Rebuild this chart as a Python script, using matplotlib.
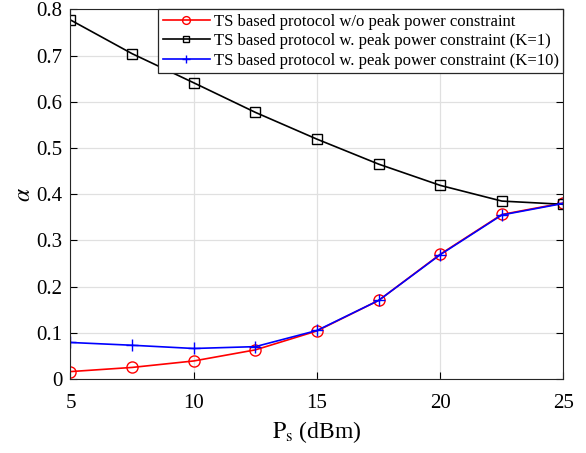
import matplotlib.pyplot as plt

plt.rcParams['font.family'] = ['Liberation Serif', 'DejaVu Serif']
plt.rcParams['mathtext.fontset'] = 'stix'

# transmit power (dBm)
ps = [5, 7.5, 10, 12.5, 15, 17.5, 20, 22.5, 25]

# alpha values
alpha_no_peak = [0.016, 0.025, 0.039, 0.063, 0.104, 0.170, 0.270, 0.356, 0.381]
alpha_k1 = [0.777, 0.704, 0.641, 0.577, 0.519, 0.465, 0.419, 0.385, 0.378]
alpha_k10 = [0.079, 0.073, 0.066, 0.070, 0.105, 0.170, 0.269, 0.355, 0.380]

labels = ['TS based protocol w/o peak power constraint',
          'TS based protocol w. peak power constraint (K=1)',
          'TS based protocol w. peak power constraint (K=10)']

fig = plt.figure(figsize=(5.86, 4.53), dpi=100)
ax = fig.add_axes([0.1203, 0.1634, 0.8413, 0.816])

ax.plot(ps, alpha_no_peak, color='r', marker='o', markersize=8, mfc='none',
        mew=1.0, lw=1.2, label=labels[0])
ax.plot(ps, alpha_k1, color='k', marker='s', markersize=6.5, mfc='none',
        mew=1.0, lw=1.2, label=labels[1])
ax.plot(ps, alpha_k10, color='b', marker='+', markersize=9, mew=1.0,
        lw=1.2, label=labels[2])

ax.set_xlim(5, 25)
ax.set_ylim(0, 0.8)
ax.set_xticks([5, 10, 15, 20, 25])
ax.set_yticks([0, 0.1, 0.2, 0.3, 0.4, 0.5, 0.6, 0.7, 0.8])
ax.set_yticklabels(['0', '0.1', '0.2', '0.3', '0.4', '0.5', '0.6', '0.7', '0.8'])
ax.grid(True, color='#e0e0e0', lw=0.9)
ax.set_axisbelow(True)
ax.tick_params(direction='in', top=True, right=True, labelsize=15, length=5)
ax.tick_params(axis='x', pad=11)
ax.tick_params(axis='y', pad=6)
for s in ax.spines.values():
    s.set_color('#262626')

ax.set_xlabel(r'$\mathrm{P_s}$ (dBm)', fontsize=17, labelpad=4)
ax.set_ylabel(r'$\alpha$', fontsize=17, labelpad=1)

leg = ax.legend(loc='upper right', fontsize=12, fancybox=False,
                edgecolor='#262626', framealpha=1, borderaxespad=0,
                handlelength=2.8, labelspacing=0.2, borderpad=0.28,
                handletextpad=0.25, markerscale=0.7)
leg.get_frame().set_linewidth(0.9)

fig.savefig('out.png', dpi=100)
